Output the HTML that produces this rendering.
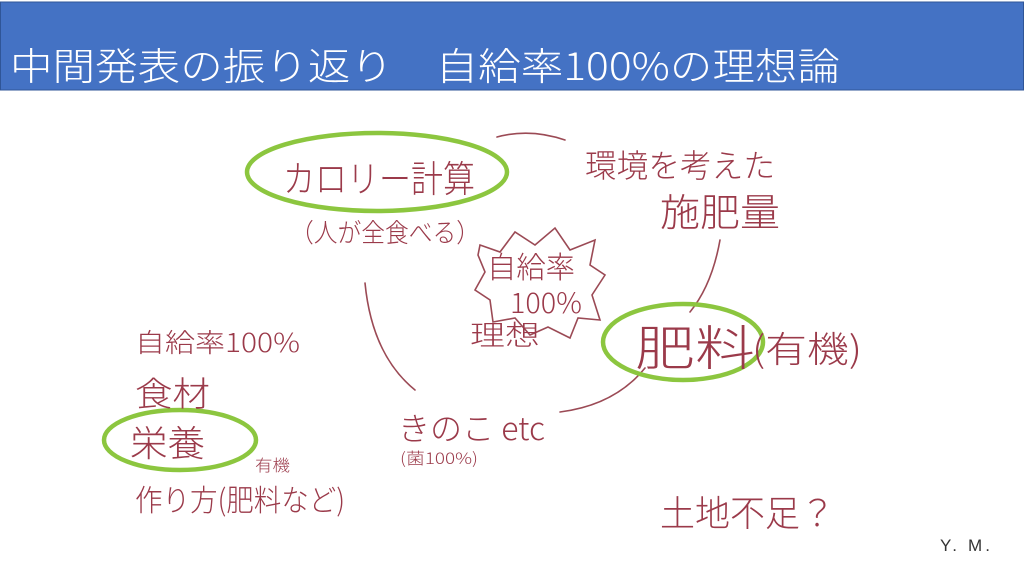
<!DOCTYPE html>
<html><head><meta charset="utf-8"><style>
html,body{margin:0;padding:0;background:#fff;}
svg{display:block;}
.h{font-family:"Noto Sans CJK JP","Liberation Sans",sans-serif;fill:#9b3a4a;font-weight:300;}
</style></head><body>
<svg width="1024" height="576" viewBox="0 0 1024 576" xmlns="http://www.w3.org/2000/svg">
<rect x="0.5" y="2" width="1023" height="88" fill="#4472c4" stroke="#2f5597" stroke-width="1"/>
<text x="10" y="80" font-family="'Noto Sans CJK JP','Liberation Sans',sans-serif" font-size="38" fill="#fff" font-weight="300" textLength="830" lengthAdjust="spacingAndGlyphs">中間発表の振り返り　自給率100%の理想論</text>

<g fill="none" stroke="#9b4a55" stroke-width="1.6" stroke-linecap="round">
<path d="M497 137 Q530 128 565 140"/>
<path d="M720 240 Q712 285 690 312"/>
<path d="M365 283 Q372 355 415 390"/>
<path d="M645 368 Q615 405 560 412"/>
<path d="M480 245 L500 252 L515 232 L535 245 L555 228 L570 250 L595 240 L590 265 L605 275 L592 295 L600 320 L578 318 L570 338 L548 327 L530 335 L515 318 L493 322 L490 300 L475 290 L485 272 L478 255 Z"/>
</g>

<g fill="none" stroke="#8cc63f" stroke-width="4.5">
<ellipse cx="377" cy="172" rx="130" ry="39"/>
<ellipse cx="683" cy="342" rx="80" ry="38"/>
<ellipse cx="180" cy="440" rx="76" ry="30"/>
</g>

<text class="h" x="283" y="192" font-size="37" textLength="192" lengthAdjust="spacingAndGlyphs">カロリー計算</text>
<text class="h" x="290" y="242" font-size="26" textLength="190" lengthAdjust="spacingAndGlyphs">（人が全食べる）</text>
<text class="h" x="487" y="278" font-size="30" textLength="88" lengthAdjust="spacingAndGlyphs">自給率</text>
<text class="h" x="510" y="313" font-size="28" textLength="72" lengthAdjust="spacingAndGlyphs">100%</text>
<text class="h" x="470" y="345" font-size="28" textLength="70" lengthAdjust="spacingAndGlyphs">理想</text>
<text class="h" x="585" y="177" font-size="32" textLength="190" lengthAdjust="spacingAndGlyphs">環境を考えた</text>
<text class="h" x="660" y="226" font-size="38" textLength="120" lengthAdjust="spacingAndGlyphs">施肥量</text>
<text class="h" x="635" y="365" font-size="48" textLength="120" lengthAdjust="spacingAndGlyphs">肥料</text>
<text class="h" x="752" y="362" font-size="36" textLength="110" lengthAdjust="spacingAndGlyphs">(有機)</text>
<text class="h" x="398" y="440" font-size="32" textLength="147" lengthAdjust="spacingAndGlyphs">きのこ etc</text>
<text class="h" x="400" y="464" font-size="16" textLength="78" lengthAdjust="spacingAndGlyphs">(菌100%)</text>
<text class="h" x="135" y="352" font-size="26" textLength="165" lengthAdjust="spacingAndGlyphs">自給率100%</text>
<text class="h" x="135" y="406" font-size="34" textLength="75" lengthAdjust="spacingAndGlyphs">食材</text>
<text class="h" x="130" y="456" font-size="36" textLength="75" lengthAdjust="spacingAndGlyphs">栄養</text>
<text class="h" x="255" y="471" font-size="16" textLength="35" lengthAdjust="spacingAndGlyphs">有機</text>
<text class="h" x="135" y="511" font-size="30" textLength="210" lengthAdjust="spacingAndGlyphs">作り方(肥料など)</text>
<text class="h" x="660" y="526" font-size="36" textLength="175" lengthAdjust="spacingAndGlyphs">土地不足？</text>
<text x="940" y="551" font-family="'Liberation Sans',sans-serif" font-size="17" fill="#333" textLength="50" lengthAdjust="spacing">Y. M.</text>
</svg>
</body></html>
